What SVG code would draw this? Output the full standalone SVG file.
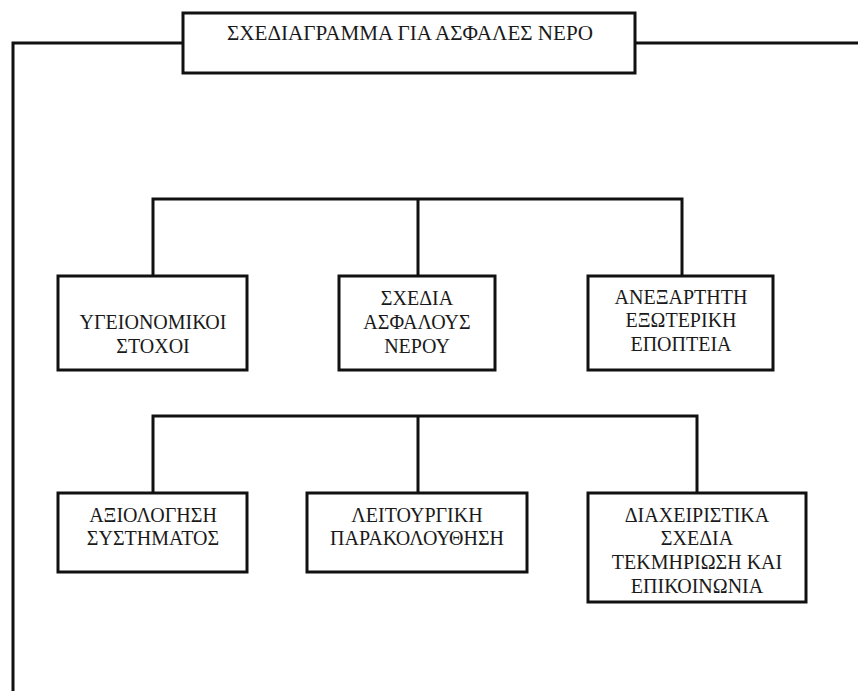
<svg xmlns="http://www.w3.org/2000/svg" width="858" height="691" viewBox="0 0 858 691">
<style>
.box{fill:#fff;stroke:#111;stroke-width:3}
.ln{fill:none;stroke:#111;stroke-width:3}
.t{font-family:"Liberation Serif","Times New Roman",serif;font-size:20px;fill:#1a1a1a;text-anchor:middle}
</style>
<rect width="858" height="691" fill="#fff"/>
<g id="connectors">
<path class="ln" d="M858,43 H13 V691"/>
<path class="ln" d="M153,276 V199 H682 V276 M418,199 V276"/>
<path class="ln" d="M153,493 V416 H697 V493 M418,416 V493"/>
</g>
<g id="title">
<rect class="box" x="183" y="13" width="452" height="60"/>
<text class="t" x="410" y="40" textLength="366" lengthAdjust="spacingAndGlyphs">ΣΧΕΔΙΑΓΡΑΜΜΑ ΓΙΑ ΑΣΦΑΛΕΣ ΝΕΡΟ</text>
</g>
<g id="n1">
<rect class="box" x="58" y="276" width="189" height="94"/>
<text class="t" x="153" y="329">ΥΓΕΙΟΝΟΜΙΚΟΙ</text>
<text class="t" x="153" y="353">ΣΤΟΧΟΙ</text>
</g>
<g id="n2">
<rect class="box" x="339" y="276" width="156" height="94"/>
<text class="t" x="417" y="305">ΣΧΕΔΙΑ</text>
<text class="t" x="417" y="329">ΑΣΦΑΛΟΥΣ</text>
<text class="t" x="417" y="353">ΝΕΡΟΥ</text>
</g>
<g id="n3">
<rect class="box" x="588" y="276" width="185" height="94"/>
<text class="t" x="681" y="304">ΑΝΕΞΑΡΤΗΤΗ</text>
<text class="t" x="681" y="327">ΕΞΩΤΕΡΙΚΗ</text>
<text class="t" x="681" y="351">ΕΠΟΠΤΕΙΑ</text>
</g>
<g id="n4">
<rect class="box" x="58" y="493" width="189" height="79"/>
<text class="t" x="153" y="522">ΑΞΙΟΛΟΓΗΣΗ</text>
<text class="t" x="153" y="545">ΣΥΣΤΗΜΑΤΟΣ</text>
</g>
<g id="n5">
<rect class="box" x="307" y="493" width="220" height="79"/>
<text class="t" x="417" y="522">ΛΕΙΤΟΥΡΓΙΚΗ</text>
<text class="t" x="417" y="545">ΠΑΡΑΚΟΛΟΥΘΗΣΗ</text>
</g>
<g id="n6">
<rect class="box" x="588" y="493" width="218" height="109"/>
<text class="t" x="697" y="522">ΔΙΑΧΕΙΡΙΣΤΙΚΑ</text>
<text class="t" x="697" y="545">ΣΧΕΔΙΑ</text>
<text class="t" x="697" y="569">ΤΕΚΜΗΡΙΩΣΗ ΚΑΙ</text>
<text class="t" x="697" y="593">ΕΠΙΚΟΙΝΩΝΙΑ</text>
</g>
</svg>
